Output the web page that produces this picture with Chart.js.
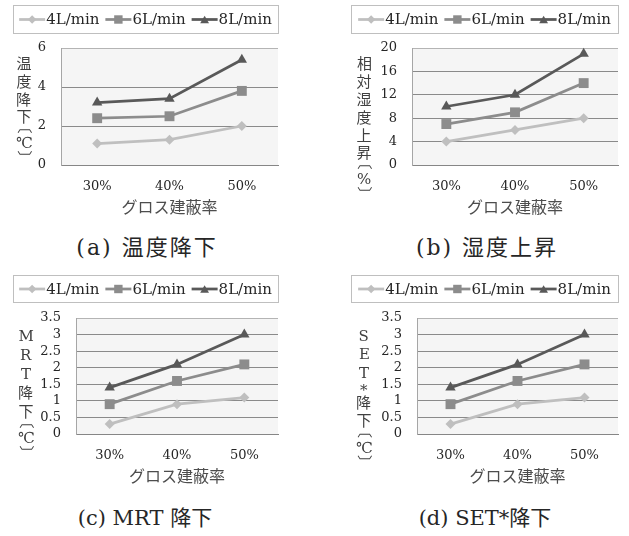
<!DOCTYPE html>
<html><head><meta charset="utf-8">
<script src="https://cdn.jsdelivr.net/npm/chart.js@4.4.1/dist/chart.umd.min.js"></script>
<style>
html,body{margin:0;padding:0;background:#fff;}
#wrap{position:relative;width:629px;height:536px;overflow:hidden;background:#fff;}
canvas{position:absolute;}
.cap{position:absolute;transform:translate(-50%,-50%);white-space:nowrap;font-family:"DejaVu Serif","Noto Sans CJK JP";font-size:21px;color:#262626;line-height:1;}
.cap.wide{font-size:22px;letter-spacing:2px;}
</style></head><body>
<div id="wrap">
<canvas id="cA" width="315" height="230" style="left:0;top:0;width:315px;height:230px"></canvas>
<canvas id="cB" width="314" height="230" style="left:315px;top:0;width:314px;height:230px"></canvas>
<canvas id="cC" width="315" height="230" style="left:0;top:270px;width:315px;height:230px"></canvas>
<canvas id="cD" width="314" height="230" style="left:315px;top:270px;width:314px;height:230px"></canvas>
<div class="cap wide" style="left:147px;top:248px">(a)&nbsp;温度降下</div>
<div class="cap wide" style="left:487px;top:248px">(b)&nbsp;湿度上昇</div>
<div class="cap" style="left:145px;top:518px">(c) MRT 降下</div>
<div class="cap" style="left:485px;top:518px">(d) SET*降下</div>
</div>
<script>
// ---- data ----
const categories = ['30%', '40%', '50%'];
const seriesNames = ['4L/min', '6L/min', '8L/min'];
const tempDrop4 = [1.1, 1.3, 2.0];
const tempDrop6 = [2.4, 2.5, 3.8];
const tempDrop8 = [3.2, 3.4, 5.4];
const humRise4 = [4, 6, 8];
const humRise6 = [7, 9, 14];
const humRise8 = [10, 12, 19];
const mrtDrop4 = [0.3, 0.9, 1.1];
const mrtDrop6 = [0.9, 1.6, 2.1];
const mrtDrop8 = [1.4, 2.1, 3.0];
const setDrop4 = [0.3, 0.9, 1.1];
const setDrop6 = [0.9, 1.6, 2.1];
const setDrop8 = [1.4, 2.1, 3.0];
const xTitle = 'グロス建蔽率';
const yTitleA = '温度降下〔℃〕';
const yTitleB = '相対湿度上昇〔%〕';
const yTitleC = 'MRT降下〔℃〕';
const yTitleD = 'SET*降下〔℃〕';

// ---- styles ----
const seriesColors = ['#bfbfbf', '#8c8c8c', '#595959'];
const seriesStyles = ['rectRot', 'rect', 'triangle'];
const seriesRadius = [5, 7, 6];
const SERIF = '"DejaVu Serif","Noto Sans CJK JP"';

function drawMarker(ctx, style, r, x, y, color) {
  ctx.save();
  ctx.fillStyle = color;
  ctx.beginPath();
  if (style === 'rectRot') {
    ctx.moveTo(x, y - r); ctx.lineTo(x + r, y); ctx.lineTo(x, y + r); ctx.lineTo(x - r, y);
  } else if (style === 'rect') {
    const s = r * Math.SQRT1_2;
    ctx.rect(x - s, y - s, 2 * s, 2 * s);
  } else {
    for (let k = 0; k < 3; k++) {
      const a = k * 2 * Math.PI / 3;
      const px = x + Math.sin(a) * r, py = y - Math.cos(a) * r + r * 0.25;
      if (k === 0) ctx.moveTo(px, py); else ctx.lineTo(px, py);
    }
  }
  ctx.closePath();
  ctx.fill();
  ctx.restore();
}

const bgPlugin = {
  id: 'plotBg',
  beforeDraw(chart) {
    const a = chart.chartArea, ctx = chart.ctx;
    ctx.save();
    ctx.fillStyle = '#f5f5f5';
    ctx.fillRect(a.left, a.top, a.right - a.left, a.bottom - a.top);
    ctx.restore();
  }
};

const legendPlugin = {
  id: 'boxLegend',
  afterDraw(chart, args, opts) {
    const ctx = chart.ctx, b = opts.box;
    ctx.save();
    ctx.strokeStyle = '#bfbfbf'; ctx.lineWidth = 1;
    ctx.strokeRect(b.x1 + 0.5, b.y1 + 0.5, b.x2 - b.x1, b.y2 - b.y1);
    ctx.font = '15px ' + SERIF;
    const ds = chart.data.datasets;
    const lineLen = 26, gap = 6;
    const widths = ds.map(d => ctx.measureText(d.label).width);
    const total = widths.reduce((s, w) => s + lineLen + 1 + w, 0) + gap * (ds.length - 1);
    let x = (b.x1 + b.x2) / 2 - total / 2;
    const y = (b.y1 + b.y2) / 2 + 0.5;
    ds.forEach((d, i) => {
      ctx.strokeStyle = d.borderColor; ctx.lineWidth = d.borderWidth;
      ctx.beginPath(); ctx.moveTo(x, y); ctx.lineTo(x + lineLen, y); ctx.stroke();
      drawMarker(ctx, d.pointStyle, d.pointRadius * 0.85, x + lineLen / 2, y, d.borderColor);
      ctx.fillStyle = '#262626'; ctx.textAlign = 'left'; ctx.textBaseline = 'middle';
      ctx.fillText(d.label, x + lineLen + 1, y + 1);
      x += lineLen + 1 + widths[i] + gap;
    });
    ctx.restore();
  }
};

const vTitlePlugin = {
  id: 'vTitle',
  afterDraw(chart, args, opts) {
    const ctx = chart.ctx, a = chart.chartArea;
    ctx.save();
    ctx.fillStyle = '#404040';
    ctx.font = '15px ' + SERIF;
    let y = a.top + opts.start;
    for (const ch of opts.text) {
      let h = opts.pitch;
      if (ch === '〔' || ch === '〕') h = 10;
      else if (ch === '℃' || ch === '%' || ch === '*') h = 12;
      const cy = y + h / 2;
      ctx.save();
      ctx.translate(opts.x, cy);
      if (ch === '〔' || ch === '〕') ctx.rotate(Math.PI / 2);
      ctx.textAlign = 'left'; ctx.textBaseline = 'alphabetic';
      const m = ctx.measureText(ch);
      const x0 = (m.actualBoundingBoxLeft - m.actualBoundingBoxRight) / 2;
      const y0 = (m.actualBoundingBoxAscent - m.actualBoundingBoxDescent) / 2;
      ctx.fillText(ch, x0, y0);
      ctx.restore();
      y += h;
    }
    ctx.restore();
  }
};

function makeChart(id, W, H, area, legendBox, yMax, yStep, s4, s6, s8, yTitle, vt) {
  const series = [s4, s6, s8];
  const datasets = series.map((vals, i) => ({
    label: seriesNames[i],
    data: vals,
    borderColor: seriesColors[i],
    backgroundColor: seriesColors[i],
    pointBackgroundColor: seriesColors[i],
    pointBorderColor: seriesColors[i],
    pointBorderWidth: 0,
    pointStyle: seriesStyles[i],
    pointRadius: seriesRadius[i],
    borderWidth: 2.75,
    tension: 0,
    clip: false
  }));
  const titleFontSize = 16, lh = titleFontSize * 1.2;
  return new Chart(document.getElementById(id), {
    type: 'line',
    data: { labels: categories, datasets },
    plugins: [bgPlugin, legendPlugin, vTitlePlugin],
    options: {
      responsive: false, animation: false, events: [],
      devicePixelRatio: 1,
      layout: { padding: { top: area.top, left: 0, right: W - area.right, bottom: 0 } },
      plugins: {
        legend: { display: false }, tooltip: { enabled: false },
        boxLegend: { box: legendBox },
        vTitle: { text: yTitle, x: vt.x, start: vt.start, pitch: vt.pitch }
      },
      scales: {
        x: {
          type: 'category', offset: true,
          grid: { display: false, drawTicks: false },
          border: { display: true, color: '#868686', width: 1 },
          ticks: { color: '#262626', font: { family: SERIF, size: 13 }, padding: 14, maxRotation: 0 },
          title: {
            display: true, text: xTitle, color: '#4d4d4d',
            font: { family: SERIF, size: titleFontSize },
            padding: { top: 0, bottom: H - (area.bottom + 44) - lh / 2 }
          },
          afterFit(s) { s.height = H - area.bottom; }
        },
        y: {
          min: 0, max: yMax,
          grid: {
            drawTicks: false, lineWidth: 1,
            color: c => (c.tick && c.tick.value === yMax) ? '#b4b4b4' : '#8a8a8a'
          },
          border: { display: true, color: '#a6a6a6', width: 1 },
          ticks: {
            stepSize: yStep, padding: 15, color: '#262626', autoSkip: false,
            font: { family: SERIF, size: 13 },
            callback: v => String(v)
          },
          afterFit(s) { s.width = area.left; }
        }
      }
    }
  });
}

makeChart('cA', 315, 230, { left: 61, right: 278, top: 48, bottom: 165 },
  { x1: 13, y1: 5, x2: 278, y2: 33 }, 6, 2, tempDrop4, tempDrop6, tempDrop8, yTitleA,
  { x: 24, start: 6, pitch: 18 });
makeChart('cB', 314, 230, { left: 97, right: 303, top: 48, bottom: 165 },
  { x1: 36, y1: 5, x2: 303, y2: 33 }, 20, 4, humRise4, humRise6, humRise8, yTitleB,
  { x: 49, start: 6, pitch: 18 });
makeChart('cC', 315, 230, { left: 76, right: 278, top: 48, bottom: 164 },
  { x1: 13, y1: 5, x2: 278, y2: 32 }, 3.5, 0.5, mrtDrop4, mrtDrop6, mrtDrop8, yTitleC,
  { x: 26, start: 8, pitch: 19 });
makeChart('cD', 314, 230, { left: 102, right: 303, top: 48, bottom: 164 },
  { x1: 36, y1: 5, x2: 303, y2: 32 }, 3.5, 0.5, setDrop4, setDrop6, setDrop8, yTitleD,
  { x: 49, start: 8, pitch: 18.5 });
</script>
</body></html>
